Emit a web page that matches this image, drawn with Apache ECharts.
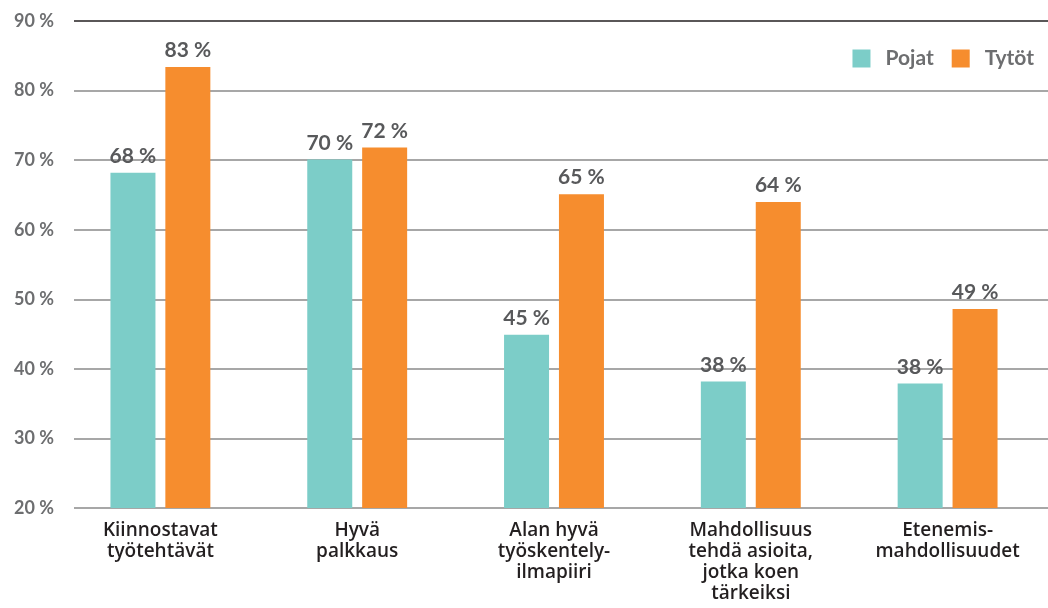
<!DOCTYPE html>
<html><head><meta charset="utf-8">
<script src="https://cdn.jsdelivr.net/npm/echarts@6/dist/echarts.min.js"></script>
<style>html,body{margin:0;padding:0;background:#fff}#c{width:1048px;height:608px}</style>
</head><body><div id="c"></div>
<script>
var categories = ['Kiinnostavat\ntyötehtävät', 'Hyvä\npalkkaus', 'Alan hyvä\ntyöskentely-\nilmapiiri', 'Mahdollisuus\ntehdä asioita,\njotka koen\ntärkeiksi', 'Etenemis-\nmahdollisuudet'];
var pojat = [68.2, 70.1, 44.9, 38.2, 37.9];
var tytot = [83.4, 71.8, 65.1, 64.0, 48.6];
var seriesNames = ['Pojat', 'Tytöt'];
var yMin = 20, yMax = 90, yStep = 10;

var FONT = 'Lato';
var chart = echarts.init(document.getElementById('c'), null, {renderer: 'canvas'});
var gridColors = ['#8a8a8a','#8a8a8a','#8a8a8a','#8a8a8a','#8a8a8a','#8a8a8a','#8a8a8a','#231f20'];
var lbl = {show: true, position: 'top', distance: 6, color: '#58595b', fontFamily: FONT, fontWeight: 'bold', fontSize: 21,
  formatter: function (p) { return Math.round(p.value) + ' %'; }};
chart.setOption({
  animation: false,
  textStyle: {fontFamily: FONT},
  legend: {
    right: 9, top: 43, itemWidth: 18, itemHeight: 18, itemGap: 18,
    icon: 'rect',
    textStyle: {color: '#6d6e70', fontFamily: FONT, fontWeight: 'bold', fontSize: 21, padding: [0,0,0,10]},
    data: seriesNames
  },
  grid: [
    {left: 62, right: 2, top: 21, bottom: 100},
    {left: 74, right: 0, top: 21, bottom: 100}
  ],
  xAxis: [
    {type: 'category', gridIndex: 0, data: categories,
     axisLine: {show: false}, axisTick: {show: false},
     axisLabel: {color: '#231f20', fontFamily: 'Open Sans', fontSize: 19, fontWeight: 600, lineHeight: 21, margin: 12, interval: 0}},
    {type: 'value', gridIndex: 1, show: false, min: 0, max: 1}
  ],
  yAxis: [
    {type: 'value', gridIndex: 0, min: yMin, max: yMax, interval: yStep, show: false, splitLine: {show: false}},
    {type: 'value', gridIndex: 1, min: yMin, max: yMax, interval: yStep,
     axisLine: {show: false}, axisTick: {show: false},
     axisLabel: {color: '#6d6e70', fontFamily: FONT, fontWeight: 'bold', fontSize: 18, margin: 20,
       formatter: function (v) { return v + ' %'; }},
     splitLine: {lineStyle: {color: gridColors, width: 1.5}}}
  ],
  series: [
    {name: seriesNames[0], type: 'bar', xAxisIndex: 0, yAxisIndex: 0, data: pojat, barWidth: 45, barGap: '22%',
     itemStyle: {color: '#7ccdc8'}, label: lbl, z: 5},
    {name: seriesNames[1], type: 'bar', xAxisIndex: 0, yAxisIndex: 0, data: tytot, barWidth: 45, barGap: '22%',
     itemStyle: {color: '#f68d2e'}, label: lbl, z: 5}
  ]
});
</script></body></html>
